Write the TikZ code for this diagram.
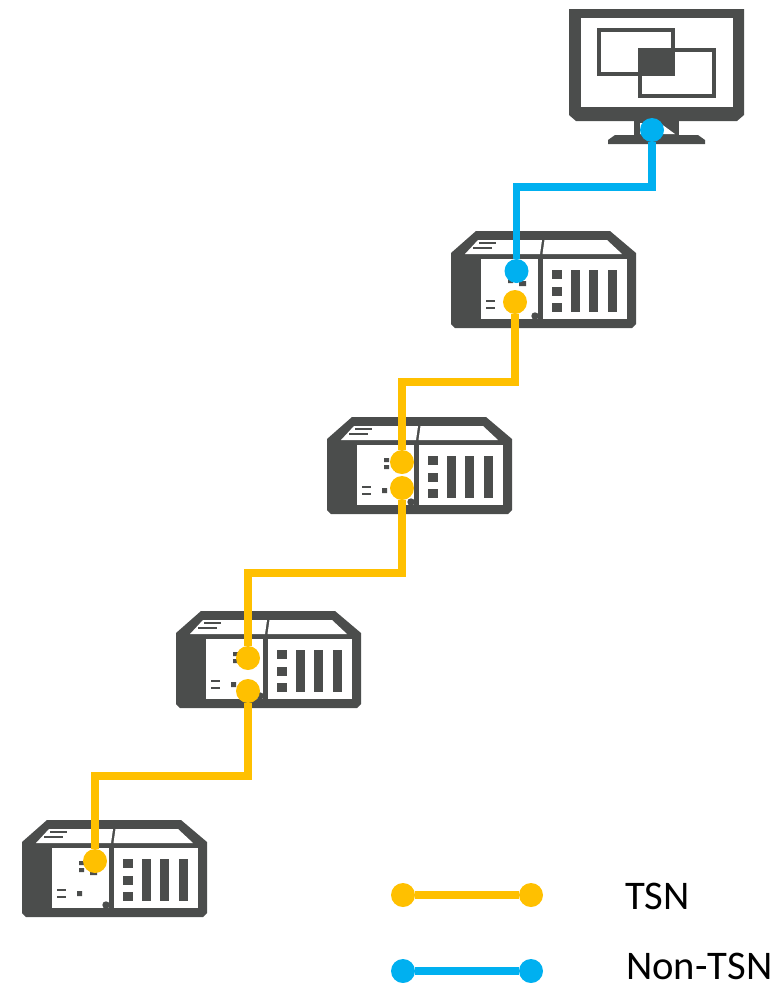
\documentclass[tikz,border=0pt]{standalone}
\usepackage{fontspec}
\setmainfont{Carlito}
\usepackage{xcolor}
\definecolor{tsncolor}{HTML}{FFC000}
\definecolor{nontsncolor}{HTML}{00B0F0}
\definecolor{devcolor}{HTML}{4B4D4C}

\begin{document}
\begin{tikzpicture}[
  x=0.75pt,y=-0.75pt,
  dot/.style={circle,inner sep=0pt,minimum size=18pt},
  tsndot/.style={dot,fill=tsncolor},
  nontsndot/.style={dot,fill=nontsncolor},
  tsn/.style={draw=tsncolor,line width=5.8pt},
  nontsn/.style={draw=nontsncolor,line width=5.8pt},
  lbl/.style={font=\fontsize{30.5pt}{34pt}\selectfont,anchor=west,inner sep=0pt},
  device/.pic={
    \fill[devcolor] (25,0) -- (159,0) -- (185,22) -- (185,93) -- (181,97) -- (4,97) -- (0,93) -- (0,22) -- cycle;
    \fill[white] (14,23) -- (27,9) -- (91,9) -- (89,23) -- cycle;
    \fill[white] (93.5,9) -- (156,9) -- (171,23) -- (91.5,23) -- cycle;
    \fill[white] (30,28) rectangle (87,87.5);
    \fill[white] (92,28) rectangle (175.5,87.5);
    \fill[devcolor] (84,85) circle[radius=3.7];
    \draw[devcolor,line width=1.5pt] (28,12) -- (45,12) (22,17) -- (41,17);
    \foreach \y in {39,56,72} {\fill[devcolor] (101,\y) rectangle ++(10,9);}
    \foreach \x in {120,138,157} {\fill[devcolor] (\x,39) rectangle ++(9,42);}
    \fill[devcolor] (57,41) rectangle ++(5,4) (57,48) rectangle ++(5,4) (68,50) rectangle ++(7,5) (55,71) rectangle ++(5,5);
    \draw[devcolor,line width=1.5pt] (35,70) -- (44,70) (35,77) -- (44,77);
  }
]
\useasboundingbox (0,0) rectangle (777,983);
% monitor
\fill[devcolor] (569,9) -- (744,9) -- (744,115) -- (737,121) -- (576,121) -- (569,115) -- cycle;
\fill[white] (581,18) rectangle (733,107);
\fill[devcolor] (634,121) rectangle (679,135);
\fill[devcolor] (615,135) -- (698,135) -- (705,140) -- (705,144) -- (608,144) -- (608,140) -- cycle;
\fill[white] (640,123) -- (660,123) -- (675,134) -- (640,134) -- cycle;
\draw[devcolor,line width=3.2pt] (599,30) rectangle (673,74);
\draw[devcolor,line width=3.2pt] (640,50) rectangle (714,96);
\fill[devcolor] (638,48) rectangle (675,76);
% devices
\pic at (451,231) {device};
\pic at (327,417) {device};
\pic at (176,611) {device};
\pic at (22,820) {device};
% bends
\coordinate (bendA) at (0,187);
\coordinate (bendB) at (0,382);
\coordinate (bendC) at (0,573);
\coordinate (bendD) at (0,776);
% ports
\node[nontsndot] (mon) at (652,130) {};
\node[nontsndot] (devAup) at (516.5,271) {};
\node[tsndot] (devAdn) at (515,302) {};
\node[tsndot] (devBup) at (402,462) {};
\node[tsndot] (devBdn) at (402,488) {};
\node[tsndot] (devCup) at (248,658) {};
\node[tsndot] (devCdn) at (248,691) {};
\node[tsndot] (devD) at (95,861) {};
% legend
\node[tsndot] (tsnL) at (403,895) {};
\node[tsndot] (tsnR) at (531,895) {};
\node[nontsndot] (nontsnL) at (403,971) {};
\node[nontsndot] (nontsnR) at (531,971) {};
\node[lbl] (tsnlabel) at (625,896) {TSN};
\node[lbl] (nontsnlabel) at (626,966) {Non-TSN};

\draw[nontsn] (mon) -- (mon |- bendA) -- (devAup |- bendA) -- (devAup);
\draw[tsn] (devAdn) -- (devAdn |- bendB) -- (devBup |- bendB) -- (devBup);
\draw[tsn] (devBdn) -- (devBdn |- bendC) -- (devCup |- bendC) -- (devCup);
\draw[tsn] (devCdn) -- (devCdn |- bendD) -- (devD |- bendD) -- (devD);
\draw[tsn] (tsnL) -- (tsnR);
\draw[nontsn] (nontsnL) -- (nontsnR);
\end{tikzpicture}
\end{document}
